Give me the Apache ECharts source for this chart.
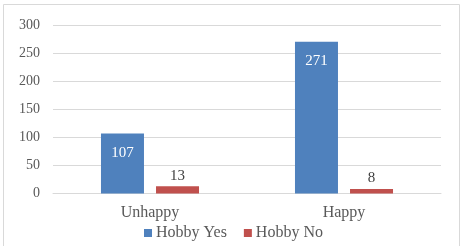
<!DOCTYPE html>
<html>
<head>
<meta charset="utf-8">
<script src="https://cdn.jsdelivr.net/npm/echarts@6/dist/echarts.min.js"></script>
<style>
  html, body { margin: 0; padding: 0; background: #fff; }
  #chart { width: 467px; height: 246px; }
</style>
</head>
<body>
<div id="chart"></div>
<script>
const categories = ['Unhappy', 'Happy'];
const hobbyYes = [107, 271];
const hobbyNo = [13, 8];
const yTicks = { min: 0, max: 300, interval: 50 };

const font = '"Liberation Serif", "Times New Roman", serif';

let chart = echarts.init(document.getElementById('chart'));

let options = {
  animation: false,
  textStyle: { fontFamily: font },
  graphic: [
    {
      type: 'rect',
      shape: { x: 3.5, y: 4.5, width: 456, height: 260 },
      style: { fill: 'none', stroke: '#d9d9d9', lineWidth: 1 },
      silent: true
    }
  ],
  grid: {
    left: 53,
    right: 26,
    top: 25.5,
    bottom: 52.5
  },
  legend: {
    bottom: 0,
    left: 'center',
    itemWidth: 8,
    itemHeight: 8,
    itemGap: 17,
    icon: 'rect',
    textStyle: { fontFamily: font, fontSize: 16, color: '#595959', padding: [0, 0, 0, -1] },
    data: ['Hobby Yes', 'Hobby No']
  },
  xAxis: {
    type: 'category',
    data: categories,
    axisLine: { lineStyle: { color: '#d9d9d9' } },
    axisTick: { show: false },
    axisLabel: { fontFamily: font, fontSize: 16, color: '#595959', margin: 11 }
  },
  yAxis: {
    type: 'value',
    min: yTicks.min,
    max: yTicks.max,
    interval: yTicks.interval,
    axisLine: { show: false },
    axisTick: { show: false },
    splitLine: { lineStyle: { color: '#d9d9d9' } },
    axisLabel: { fontFamily: font, fontSize: 14, color: '#595959', margin: 13 }
  },
  series: [
    {
      name: 'Hobby Yes',
      type: 'bar',
      data: hobbyYes,
      barWidth: 43,
      barGap: '28%',
      itemStyle: { color: '#4f81bd' },
      label: {
        show: true,
        position: 'insideTop',
        distance: 12,
        color: '#ffffff',
        fontFamily: font,
        fontSize: 15
      }
    },
    {
      name: 'Hobby No',
      type: 'bar',
      data: hobbyNo,
      barWidth: 43,
      itemStyle: { color: '#c0504d' },
      label: {
        show: true,
        position: 'top',
        distance: 3,
        color: '#404040',
        fontFamily: font,
        fontSize: 15
      }
    }
  ]
};

chart.setOption(options);
</script>
</body>
</html>
